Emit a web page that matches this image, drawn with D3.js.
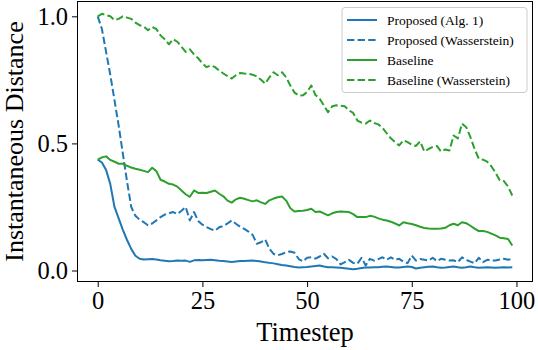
<!DOCTYPE html>
<html>
<head>
<meta charset="utf-8">
<script src="https://cdn.jsdelivr.net/npm/d3@7"></script>
<style>
  body { margin: 0; background: #fff; }
  svg { display: block; }
  text { font-family: "Liberation Serif", "Times New Roman", serif; }
</style>
</head>
<body>
<script>
// values, one per timestep 0..99
const timesteps = d3.range(100)

const proposedAlg1 = [
  0.436, 0.425, 0.395, 0.34, 0.25, 0.205, 0.16, 0.12, 0.085, 0.058,
  0.046, 0.043, 0.044, 0.045, 0.043, 0.04, 0.038, 0.036, 0.037, 0.039,
  0.038, 0.039, 0.034, 0.04, 0.041, 0.04, 0.041, 0.042, 0.04, 0.038,
  0.037, 0.035, 0.033, 0.035, 0.037, 0.037, 0.038, 0.039, 0.037, 0.035,
  0.032, 0.03, 0.028, 0.025, 0.022, 0.02, 0.017, 0.014, 0.012, 0.013,
  0.014, 0.016, 0.018, 0.02, 0.016, 0.013, 0.013, 0.012, 0.011, 0.009,
  0.007, 0.005, 0.007, 0.01, 0.012, 0.012, 0.013, 0.013, 0.015, 0.016,
  0.014, 0.012, 0.012, 0.014, 0.016, 0.014, 0.008, 0.011, 0.013, 0.015,
  0.016, 0.013, 0.011, 0.012, 0.014, 0.016, 0.013, 0.011, 0.013, 0.016,
  0.013, 0.011, 0.012, 0.013, 0.012, 0.011, 0.012, 0.013, 0.012, 0.013
]

const proposedWass = [
  1.0, 0.95, 0.86, 0.77, 0.67, 0.57, 0.46, 0.35, 0.25, 0.215,
  0.2, 0.19, 0.178, 0.185, 0.197, 0.21, 0.22, 0.225, 0.23, 0.222,
  0.235, 0.25, 0.197, 0.23, 0.195, 0.18, 0.171, 0.163, 0.157, 0.17,
  0.175, 0.185, 0.197, 0.184, 0.172, 0.164, 0.153, 0.14, 0.105, 0.111,
  0.122, 0.085, 0.065, 0.06, 0.065, 0.072, 0.075, 0.07, 0.045, 0.036,
  0.05, 0.052, 0.047, 0.055, 0.066, 0.048, 0.055, 0.045, 0.024, 0.033,
  0.042, 0.03, 0.026, 0.05, 0.02, 0.046, 0.039, 0.045, 0.052, 0.042,
  0.052, 0.042, 0.046, 0.035, 0.029, 0.059, 0.039, 0.045, 0.042, 0.039,
  0.05, 0.037, 0.046, 0.042, 0.039, 0.04, 0.033, 0.052, 0.042, 0.035,
  0.029, 0.05, 0.033, 0.042, 0.04, 0.039, 0.043, 0.046, 0.042, 0.046
]

const baseline = [
  0.436, 0.445, 0.449, 0.435, 0.428, 0.42, 0.42, 0.412, 0.405, 0.4,
  0.396, 0.392, 0.387, 0.404, 0.391, 0.357, 0.35, 0.341, 0.338, 0.33,
  0.315, 0.3, 0.29, 0.315, 0.305, 0.306, 0.305, 0.31, 0.315, 0.302,
  0.292, 0.275, 0.267, 0.28, 0.286, 0.282, 0.277, 0.272, 0.276, 0.268,
  0.262, 0.276, 0.283, 0.288, 0.291, 0.275, 0.245, 0.232, 0.234, 0.235,
  0.238, 0.243, 0.23, 0.232, 0.225, 0.217, 0.225, 0.23, 0.232, 0.231,
  0.23, 0.222, 0.21, 0.21, 0.21, 0.215, 0.212, 0.205, 0.2, 0.197,
  0.192, 0.185, 0.177, 0.19, 0.186, 0.183, 0.178, 0.172, 0.167, 0.165,
  0.164, 0.164, 0.165, 0.168, 0.178, 0.184, 0.178, 0.19, 0.186, 0.176,
  0.165, 0.155, 0.155, 0.152, 0.145, 0.138, 0.129, 0.127, 0.124, 0.098
]

const baselineWass = [
  1.0, 1.01, 1.005, 1.0, 0.985, 0.99, 1.0, 0.995, 0.99, 0.975,
  0.965, 0.96, 0.945, 0.958, 0.95, 0.925, 0.91, 0.89, 0.91, 0.9,
  0.88, 0.86, 0.87, 0.85, 0.835, 0.815, 0.8, 0.807, 0.8, 0.787,
  0.775, 0.765, 0.755, 0.768, 0.777, 0.775, 0.774, 0.77, 0.764, 0.75,
  0.735, 0.76, 0.78, 0.768, 0.78, 0.76, 0.728, 0.7, 0.688, 0.689,
  0.702, 0.728, 0.69, 0.676, 0.65, 0.623, 0.646, 0.65, 0.648, 0.646,
  0.63, 0.62, 0.59, 0.582, 0.578, 0.59, 0.58, 0.575, 0.562, 0.54,
  0.52, 0.505, 0.492, 0.512, 0.505, 0.495, 0.49, 0.508, 0.468, 0.478,
  0.486, 0.49, 0.468, 0.476, 0.472, 0.531, 0.52, 0.578, 0.564, 0.525,
  0.478, 0.44, 0.436, 0.428, 0.41, 0.385, 0.355, 0.352, 0.33, 0.295
]

const seriesNames = ['Proposed (Alg. 1)', 'Proposed (Wasserstein)', 'Baseline', 'Baseline (Wasserstein)']
const seriesValues = [proposedAlg1, proposedWass, baseline, baselineWass]
const xTicks = [0, 25, 50, 75, 100]
const yTicks = [0.0, 0.5, 1.0]

const width = 538
const height = 350
const plotLeft = 77, plotRight = 533, plotTop = 1, plotBottom = 282

const styles = [
  { color: '#1f77b4', dash: null },
  { color: '#1f77b4', dash: '7.4,3.2' },
  { color: '#2ca02c', dash: null },
  { color: '#2ca02c', dash: '7.4,3.2' }
]

// matplotlib style 5% margins
const pad = (lo, hi) => [lo - (hi - lo) * 0.05, hi + (hi - lo) * 0.05]
const allY = seriesValues.flat()
const x = d3.scaleLinear().domain(pad(0, timesteps.length - 1)).range([plotLeft, plotRight])
const y = d3.scaleLinear().domain(pad(d3.min(allY), d3.max(allY))).range([plotBottom, plotTop])

const svg = d3.select('body').append('svg')
  .attr('width', width)
  .attr('height', height)

const line = d3.line()
  .x((d, i) => x(timesteps[i]))
  .y(d => y(d))

svg.selectAll('path.series')
  .data(seriesValues)
  .enter()
  .append('path')
  .attr('class', 'series')
  .attr('d', line)
  .attr('fill', 'none')
  .attr('stroke', (d, i) => styles[i].color)
  .attr('stroke-width', 2)
  .attr('stroke-linejoin', 'round')
  .attr('stroke-dasharray', (d, i) => styles[i].dash)

// axes
const xAxis = svg.append('g')
  .attr('transform', `translate(0,${plotBottom})`)
  .call(d3.axisBottom(x).tickValues(xTicks).tickFormat(d3.format('d')).tickSize(5).tickPadding(4))
const yAxis = svg.append('g')
  .attr('transform', `translate(${plotLeft},0)`)
  .call(d3.axisLeft(y).tickValues(yTicks).tickFormat(d3.format('.1f')).tickSize(5).tickPadding(4))

for (const g of [xAxis, yAxis]) {
  g.select('.domain').remove()
  g.selectAll('line').attr('stroke', '#000').attr('stroke-width', 1)
  g.selectAll('text')
    .attr('fill', '#000')
    .style('font-family', '"Liberation Serif", serif')
    .style('font-size', '24.5px')
}
yAxis.selectAll('text').attr('dy', '0.34em')
xAxis.selectAll('text').attr('dy', '0.72em')

svg.append('rect')
  .attr('x', plotLeft + 0.5)
  .attr('y', plotTop + 0.5)
  .attr('width', plotRight - plotLeft - 1)
  .attr('height', plotBottom - plotTop - 1)
  .attr('fill', 'none')
  .attr('stroke', '#000')
  .attr('stroke-width', 1)

svg.append('text')
  .attr('x', (plotLeft + plotRight) / 2)
  .attr('y', 341)
  .attr('text-anchor', 'middle')
  .style('font-size', '26.5px')
  .text('Timestep')

svg.append('text')
  .attr('transform', `translate(23,${(plotTop + plotBottom) / 2}) rotate(-90)`)
  .attr('text-anchor', 'middle')
  .style('font-size', '26px')
  .text('Instantaneous Distance')

// legend
const legend = svg.append('g')
legend.append('rect')
  .attr('x', 342)
  .attr('y', 7.5)
  .attr('width', 185)
  .attr('height', 85)
  .attr('rx', 3)
  .attr('fill', '#fff')
  .attr('fill-opacity', 0.8)
  .attr('stroke', '#cccccc')
  .attr('stroke-width', 1)

const rows = legend.selectAll('g.row')
  .data(seriesNames)
  .enter()
  .append('g')
  .attr('class', 'row')
  .attr('transform', (d, i) => `translate(0,${20 + i * 20})`)

rows.append('line')
  .attr('x1', 347)
  .attr('x2', 377)
  .attr('stroke', (d, i) => styles[i].color)
  .attr('stroke-width', 2)
  .attr('stroke-dasharray', (d, i) => styles[i].dash)

rows.append('text')
  .attr('x', 387)
  .attr('dy', '0.35em')
  .style('font-size', '13.5px')
  .text(d => d)
</script>
</body>
</html>
